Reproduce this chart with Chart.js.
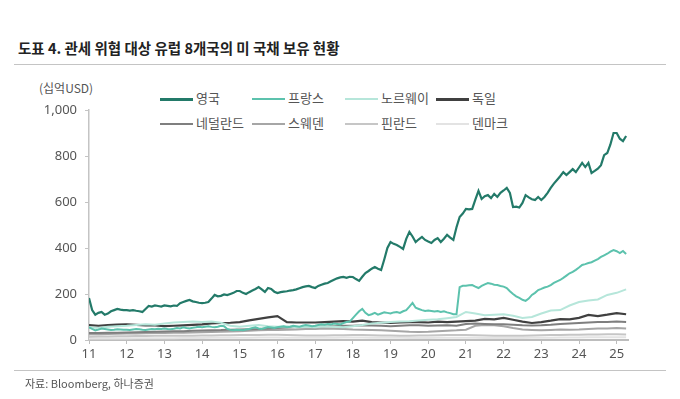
<!DOCTYPE html>
<html>

<head>
  <meta charset="utf-8">
  <script src="https://cdn.jsdelivr.net/npm/chart.js@4.4.0/dist/chart.umd.min.js"></script>
  <style>
    body { margin: 0; background: #fff; font-family: "Noto Sans CJK KR", "Noto Sans", sans-serif; }
    #wrap { position: relative; width: 680px; height: 399px; overflow: hidden; }
    #title { position: absolute; left: 18px; top: 37px; font-size: 14.5px; font-weight: bold; color: #222; }
    .rule { position: absolute; left: 14px; width: 652px; height: 1px; background: #c4c4c4; }
    #unit { position: absolute; left: 39px; top: 79px; font-size: 12px; color: #555; }
    #legend .item { position: absolute; font-size: 13px; color: #555; line-height: 16px; white-space: nowrap; }
    #legend .swatch { display: inline-block; width: 33px; vertical-align: middle; margin-right: 3px; }
    #source { position: absolute; left: 25px; top: 375px; font-size: 11px; color: #555; }
    canvas { position: absolute; left: 0; top: 0; }
  </style>
</head>

<body>
  <div id="wrap">
    <div id="title">도표 4. 관세 위협 대상 유럽 8개국의 미 국채 보유 현황</div>
    <div class="rule" style="top:64px"></div>
    <div id="unit">(십억USD)</div>
    <div id="legend"></div>
    <canvas id="chart" width="680" height="399"></canvas>
    <div class="rule" style="top:370px"></div>
    <div id="source">자료: Bloomberg, 하나증권</div>
  </div>
  <script>
    // x = year (two digits), data starts Jan 2011
    var startYear = 11;
    var yearTicks = [11, 12, 13, 14, 15, 16, 17, 18, 19, 20, 21, 22, 23, 24, 25];

    var names = ['영국', '프랑스', '노르웨이', '독일', '네덜란드', '스웨덴', '핀란드', '덴마크'];
    var colors = ['#237a69', '#5cc2ad', '#b6e6da', '#404040', '#7f7f7f', '#a6a6a6', '#c6c6c6', '#e3e3e3'];

    // monthly, Jan 2011 - Apr 2025
    var uk = [
      183, 130, 110, 118, 122, 110, 115, 125, 130, 135, 132, 130,
      130, 128, 130, 127, 125, 122, 135, 148, 145, 150, 148, 145,
      150, 148, 146, 150, 148, 160, 165, 170, 174, 168, 165, 162,
      160, 162, 165, 180, 196, 190, 192, 198, 195, 200, 205, 213,
      213, 205, 200, 208, 215, 222, 230, 220, 209, 226, 222, 210,
      204, 208, 210, 212, 215, 217, 220, 225, 230, 233, 235, 230,
      226, 235, 240, 245, 248, 255, 262, 268, 272, 274, 270, 275,
      274, 265, 257, 275, 291, 300, 310, 317, 310, 304, 350, 400,
      426, 418, 413, 405, 396, 440, 470, 450, 426, 438, 448, 435,
      428, 422, 435, 443, 426, 440, 457, 445, 435, 490, 535, 550,
      570, 568, 570, 610, 648, 613, 625, 630, 617, 635, 622, 640,
      650, 661, 639, 578, 580, 576, 596, 630, 620, 612, 609, 622,
      609, 622, 640, 661, 680, 696, 712, 730, 717, 730, 743, 730,
      750, 770, 752, 770, 726, 735, 745, 760, 804, 813, 850, 900,
      900, 875, 865, 887
    ];
    var france = [
      55, 48, 42, 45, 50, 48, 46, 44, 45, 47, 46, 45,
      45, 44, 46, 48, 47, 45, 44, 46, 48, 47, 49, 48,
      50, 48, 47, 49, 52, 50, 55, 52, 50, 53, 55, 58,
      56, 58, 60, 57, 55, 58, 62, 60, 48, 44, 42, 45,
      44, 42, 46, 48, 52, 55, 50, 48, 52, 56, 54, 52,
      55, 58, 60, 56, 58, 62, 60, 58, 62, 65, 63, 60,
      62, 65, 68, 66, 70, 68, 72, 70, 68, 74, 78, 80,
      95, 110, 125, 135, 118, 108, 112, 118, 110, 115, 120, 118,
      115, 120, 122, 118, 125, 130, 145, 161, 140, 135, 130, 126,
      128, 126, 124, 126, 122, 125, 120, 117, 112, 112, 230, 236,
      236, 238, 239, 232, 226, 235, 242, 248, 245, 240, 239, 235,
      232, 226, 212, 200, 190, 183, 175, 170, 180, 196, 205, 217,
      222, 228, 232, 239, 248, 255, 261, 270, 280, 290, 296, 305,
      315, 326, 330, 335, 338, 345, 352, 361, 368, 375, 384, 391,
      386, 378, 387, 374
    ];
    // quarterly, Jan 2011 - Apr 2025
    var norway = [
      55, 52, 58, 60, 62, 65, 68, 66, 72, 76, 78, 80, 78, 80, 75, 62,
      58, 62, 65, 60, 58, 60, 55, 58, 55, 60, 58, 55, 60, 65, 72, 75,
      78, 80, 82, 85, 88, 90, 95, 100, 122, 115, 108, 110, 112, 105, 96, 100,
      115, 128, 130, 150, 165, 172, 176, 196, 205, 220
    ];
    var germany = [
      65, 62, 65, 67, 68, 66, 64, 63, 60, 62, 64, 66, 68, 72, 74, 75,
      78, 85, 92, 98, 104, 78, 76, 76, 76, 78, 80, 82, 80, 84, 78, 76,
      74, 76, 78, 78, 76, 80, 78, 80, 82, 84, 92, 90, 96, 88, 80, 74,
      78, 84, 91, 90, 96, 109, 104, 110, 117, 112
    ];
    var netherlands = [
      30, 30, 31, 32, 33, 34, 35, 36, 37, 38, 38, 40, 41, 42, 43, 45,
      46, 47, 48, 50, 52, 54, 55, 56, 58, 60, 60, 62, 62, 64, 63, 62,
      60, 62, 64, 64, 62, 63, 64, 62, 70, 72, 70, 68, 68, 66, 64, 63,
      64, 66, 70, 72, 74, 76, 78, 78, 80, 78
    ];
    var sweden = [
      25, 25, 26, 27, 28, 28, 29, 30, 30, 31, 32, 33, 34, 35, 36, 37,
      38, 40, 42, 43, 44, 45, 46, 48, 48, 50, 49, 48, 46, 45, 44, 42,
      40, 38, 36, 35, 36, 38, 40, 42, 45, 62, 65, 64, 60, 52, 46, 44,
      42, 44, 46, 45, 46, 48, 50, 50, 52, 50
    ];
    var finland = [
      14, 15, 15, 16, 16, 17, 17, 18, 18, 18, 19, 19, 20, 20, 21, 21,
      22, 22, 22, 23, 23, 22, 21, 20, 20, 20, 21, 21, 22, 22, 21, 20,
      20, 19, 19, 20, 20, 21, 22, 22, 22, 21, 20, 19, 18, 18, 19, 20,
      21, 22, 22, 23, 23, 24, 24, 25, 25, 24
    ];
    var denmark = [
      6, 6, 7, 7, 7, 8, 8, 8, 8, 8, 9, 9, 9, 10, 10, 10,
      10, 10, 11, 11, 11, 10, 10, 10, 10, 10, 10, 11, 11, 11, 10, 10,
      10, 10, 9, 9, 9, 10, 10, 10, 10, 10, 9, 9, 9, 9, 9, 10,
      10, 10, 11, 11, 11, 12, 12, 12, 12, 12
    ];
    var yTicks = [0, 200, 400, 600, 800, 1000];

    function toPoints(vals, stepMonths) {
      return vals.map((v, i) => ({ x: startYear + i * stepMonths / 12, y: v }));
    }

    var series = [
      [uk, 1, 2.2], [france, 1, 2], [norway, 3, 2], [germany, 3, 2.2],
      [netherlands, 3, 2], [sweden, 3, 2], [finland, 3, 2], [denmark, 3, 2]
    ];

    // legend, two rows of four
    var legend = document.getElementById('legend');
    var colX = [160, 252, 345, 436];
    names.forEach((n, i) => {
      var d = document.createElement('div');
      d.className = 'item';
      d.style.left = colX[i % 4] + 'px';
      d.style.top = (i < 4 ? 90 : 115) + 'px';
      d.innerHTML = '<span class="swatch" style="height:' + (i === 0 || i === 3 ? 3 : 2) +
        'px;background:' + colors[i] + '"></span>' + n;
      legend.appendChild(d);
    });

    var ctx = document.getElementById('chart').getContext('2d');
    new Chart(ctx, {
      type: 'line',
      data: {
        datasets: series.map((s, i) => ({
          label: names[i],
          data: toPoints(s[0], s[1]),
          borderColor: colors[i],
          borderWidth: s[2],
          pointRadius: 0,
          tension: 0,
          fill: false
        }))
      },
      options: {
        responsive: false,
        animation: false,
        layout: { padding: { top: 110, left: 0, right: 52, bottom: 34 } },
        plugins: { legend: { display: false }, tooltip: { enabled: false } },
        scales: {
          x: {
            type: 'linear',
            min: 11,
            max: 25.3,
            afterFit: s => { s.height = 25; },
            afterBuildTicks: s => { s.ticks = yearTicks.map(v => ({ value: v })); },
            border: { color: '#bdbdbd', width: 2 },
            grid: { drawOnChartArea: false, tickLength: 4, color: '#bdbdbd' },
            ticks: {
              padding: 2,
              color: '#555',
              font: { size: 13, family: "'Noto Sans', sans-serif" },
              callback: v => v
            }
          },
          y: {
            min: 0,
            max: 1000,
            afterFit: s => { s.width = 89; },
            afterBuildTicks: s => { s.ticks = yTicks.map(v => ({ value: v })); },
            border: { color: '#c4c4c4', width: 1.5 },
            grid: { drawOnChartArea: false, tickLength: 4, color: '#c4c4c4' },
            ticks: {
              padding: 8,
              color: '#555',
              font: { size: 13, family: "'Noto Sans', sans-serif" },
              callback: v => v.toLocaleString('en-US')
            }
          }
        }
      }
    });
  </script>
</body>

</html>
